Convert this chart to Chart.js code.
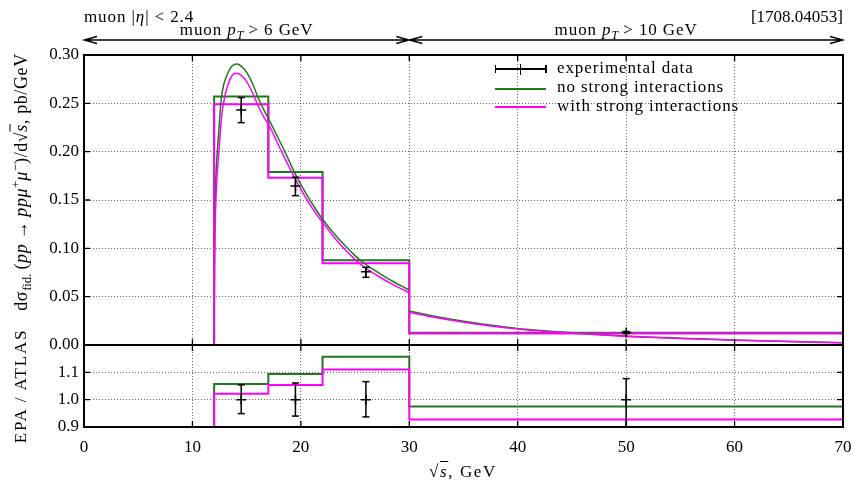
<!DOCTYPE html>
<html><head><meta charset="utf-8">
<script src="https://cdn.jsdelivr.net/npm/chart.js@4.4.1/dist/chart.umd.min.js"></script>
<style>
html,body{margin:0;padding:0;background:#fff;}
#wrap{position:relative;width:853px;height:482px;overflow:hidden;font-family:"Liberation Serif","Times New Roman",serif;color:#000;}
#c{position:absolute;left:0;top:0;}
.t{position:absolute;white-space:nowrap;font-size:17px;line-height:17px;letter-spacing:0.9px;}
.rot{transform:translate(-50%,-50%) rotate(-90deg);}
.ctr{transform:translateX(-50%);}
sub,sup{font-size:70%;line-height:0;letter-spacing:0;}
.ov{text-decoration:overline;}
.sw{position:absolute;}
</style></head><body>
<div id="wrap">
<canvas id="c" width="853" height="482"></canvas>
<div class="t" style="left:84px;top:8px;">muon |<i>η</i>| &lt; 2.4</div>
<div class="t" style="right:10px;top:8px;letter-spacing:0;">[1708.04053]</div>
<div class="t ctr" id="cut0" style="top:21px;left:246px;">muon <i>p</i><sub><i>T</i></sub> &gt; 6 GeV</div>
<div class="t ctr" id="cut1" style="top:21px;left:626px;">muon <i>p</i><sub><i>T</i></sub> &gt; 10 GeV</div>
<div class="t rot" style="left:21px;top:182px;font-size:18px;letter-spacing:0.6px;">dσ<sub>fid.</sub>&#8201;(<i>pp</i>&#8201;→&#8201;<i>ppμ</i><sup>+</sup><i>μ</i><sup>−</sup>)/d√<span class="ov"><i>s</i></span>, pb/GeV</div>
<div class="t rot" style="left:20px;top:386px;letter-spacing:1.8px;">EPA / ATLAS</div>
<div class="t ctr" style="left:463px;top:463px;letter-spacing:1.6px;">√<span class="ov"><i>s</i></span>, GeV</div>
<!-- legend -->
<div class="sw" style="left:495px;top:68px;width:51px;height:1.5px;background:#000"></div>
<div class="sw" style="left:494.5px;top:65px;width:1.5px;height:8px;background:#000"></div>
<div class="sw" style="left:545px;top:65px;width:1.5px;height:8px;background:#000"></div>
<div class="sw" style="left:519.5px;top:63.5px;width:1.5px;height:11px;background:#000"></div>
<div class="t" style="left:557px;top:59px;">experimental data</div>
<div class="sw" style="left:495px;top:87.5px;width:51px;height:2px;background:#217821"></div>
<div class="t" style="left:557px;top:78px;">no strong interactions</div>
<div class="sw" style="left:495px;top:106px;width:51px;height:2px;background:#ff00ff"></div>
<div class="t" style="left:557px;top:97px;">with strong interactions</div>
</div>
<script>
// ---- data ----
const binEdges = [12, 17, 22, 30, 70];
const histNoStrong = [0.257, 0.179, 0.0876, 0.0127];
const histStrong = [0.249, 0.173, 0.0845, 0.0120];
const ratioNoStrong = [1.057, 1.094, 1.157, 0.975];
const ratioStrong = [1.022, 1.054, 1.110, 0.927];
const dataX = [14.5, 19.5, 26, 50];
const dataY = [0.243, 0.1645, 0.0758, 0.0130];
const dataErrLow = [0.013, 0.010, 0.0058, 0.0010];
const dataErrHigh = [0.013, 0.009, 0.0046, 0.0010];
const ratioData = [1.0, 1.0, 1.0, 1.0];
const ratioErrLow = [0.051, 0.060, 0.063, 0.10];
const ratioErrHigh = [0.054, 0.061, 0.066, 0.077];
// smooth curves, pT > 6 GeV region
const curveLowX = [12.0, 12.02, 12.05, 12.1, 12.2, 12.39, 12.55, 12.7, 12.9, 13.16, 13.5, 13.8, 14.1, 14.5, 15.0, 15.5, 16.1, 16.6, 17.15, 17.8, 18.5, 19.46, 20.5, 21.3, 22.07, 23.0, 24.0, 25.0, 25.45, 26.5, 27.5, 28.5, 29.3, 30.0];
const curveLowNoStrong = [0, 0.07, 0.115, 0.15, 0.183, 0.215, 0.240, 0.258, 0.270, 0.2785, 0.2865, 0.2898, 0.2907, 0.2885, 0.2820, 0.2715, 0.2548, 0.2430, 0.231, 0.2165, 0.2005, 0.1776, 0.1563, 0.1417, 0.129, 0.1161, 0.1036, 0.0925, 0.0879, 0.0795, 0.0723, 0.0657, 0.0609, 0.0569];
const curveLowStrong = [0, 0.05, 0.09, 0.125, 0.160, 0.193, 0.217, 0.237, 0.252, 0.265, 0.2755, 0.2805, 0.2812, 0.2790, 0.2725, 0.2620, 0.2465, 0.2355, 0.2255, 0.2100, 0.1935, 0.1724, 0.1515, 0.1375, 0.1259, 0.1125, 0.0995, 0.0885, 0.0838, 0.0757, 0.0688, 0.0625, 0.0580, 0.0540];
// smooth curves, pT > 10 GeV region
const curveHighX = [30, 32, 35, 40, 45, 50, 55, 60, 65, 70];
const curveHighNoStrong = [0.0352, 0.0305, 0.0246, 0.0172, 0.0127, 0.0093, 0.0070, 0.0052, 0.0036, 0.0024];
const curveHighStrong = [0.0338, 0.0292, 0.0236, 0.0165, 0.0121, 0.0089, 0.0067, 0.0050, 0.0035, 0.0023];
const cutRanges = [[0, 30], [30, 70]];
const xTicks = {min: 0, max: 70, step: 10};
const yTicks = {min: 0, max: 0.30, step: 0.05};
const rTicks = {min: 0.9, max: 1.2, step: 0.1};

// ---- helpers ----
const GREEN = '#217821', MAG = '#ff00ff';
const pts = (xs, ys) => xs.map((x, i) => ({x, y: ys[i]}));
function stepPts(edges, vals) {
  const p = [{x: edges[0], y: 0}];
  vals.forEach((v, i) => p.push({x: edges[i], y: v}));
  p.push({x: edges[edges.length - 1], y: vals[vals.length - 1]});
  return p;
}
const lineDs = (data, color, w, axis, order, stepped) => ({
  data, borderColor: color, borderWidth: w, pointRadius: 0, yAxisID: axis,
  order, stepped: stepped ? 'before' : false, tension: 0, fill: false,
  cubicInterpolationMode: stepped ? 'default' : 'monotone'
});
const errDatasets = (xs, ys, lo, hi, axis) => {
  const out = xs.map((x, i) => ({
    data: [{x, y: ys[i] - lo[i]}, {x, y: ys[i] + hi[i]}],
    borderColor: '#000', borderWidth: 1.5, yAxisID: axis, order: 0,
    pointStyle: 'line', pointRadius: 3.5, pointBorderWidth: 1.5, pointBorderColor: '#000'
  }));
  out.push({data: pts(xs, ys), showLine: false, yAxisID: axis, order: 0,
    pointStyle: 'cross', pointRadius: 5, pointBorderWidth: 1.5, pointBorderColor: '#000'});
  return out;
};

const datasets = [
  lineDs(stepPts(binEdges, histNoStrong), GREEN, 2, 'y', 4, true),
  lineDs(stepPts(binEdges, histStrong), MAG, 2, 'y', 3, true),
  lineDs(pts(curveLowX, curveLowNoStrong), GREEN, 1.5, 'y', 2, false),
  lineDs(pts(curveHighX, curveHighNoStrong), GREEN, 1.5, 'y', 2, false),
  lineDs(pts(curveLowX, curveLowStrong), MAG, 1.5, 'y', 1, false),
  lineDs(pts(curveHighX, curveHighStrong), MAG, 1.5, 'y', 1, false),
  lineDs(stepPts(binEdges, ratioNoStrong), GREEN, 2, 'yr', 4, true),
  lineDs(stepPts(binEdges, ratioStrong), MAG, 2, 'yr', 3, true),
  ...errDatasets(dataX, dataY, dataErrLow, dataErrHigh, 'y'),
  ...errDatasets(dataX, ratioData, ratioErrLow, ratioErrHigh, 'yr')
];

const FONT = {family: '"Liberation Serif", "Times New Roman", serif', size: 17};
const gridOpts = {color: 'rgba(0,0,0,0.6)', lineWidth: 1, drawTicks: false};
const borderOpts = {display: false, dash: [1, 2]};

const framePlugin = {
  id: 'frame',
  afterDraw(chart) {
    const ctx = chart.ctx, xs = chart.scales.x;
    const panels = [chart.scales.y, chart.scales.yr];
    const seg = (a, b, c, d) => { ctx.moveTo(a, b); ctx.lineTo(c, d); };
    ctx.save();
    ctx.strokeStyle = '#000';
    ctx.lineWidth = 1.3;
    ctx.beginPath();
    const tl = 6;
    xs.ticks.forEach(t => {
      const px = xs.getPixelForValue(t.value);
      panels.forEach(ys => { seg(px, ys.top, px, ys.top + tl); seg(px, ys.bottom, px, ys.bottom - tl); });
    });
    panels.forEach(ys => ys.ticks.forEach(t => {
      const py = ys.getPixelForValue(t.value);
      seg(xs.left, py, xs.left + tl, py); seg(xs.right, py, xs.right - tl, py);
    }));
    ctx.stroke();
    ctx.lineWidth = 2;
    panels.forEach(ys => ctx.strokeRect(xs.left, ys.top, xs.right - xs.left, ys.bottom - ys.top));
    // cut range arrows
    const ay = chart.chartArea.top - 15;
    ctx.lineWidth = 1.3;
    ctx.beginPath();
    cutRanges.forEach(([a, b]) => {
      const pa = xs.getPixelForValue(a), pb = xs.getPixelForValue(b);
      seg(pa, ay, pb, ay);
      ctx.moveTo(pa + 13, ay - 3.5); ctx.lineTo(pa, ay); ctx.lineTo(pa + 13, ay + 3.5);
      ctx.moveTo(pb - 13, ay - 3.5); ctx.lineTo(pb, ay); ctx.lineTo(pb - 13, ay + 3.5);
    });
    ctx.stroke();
    ctx.restore();
  }
};

const noPad = s => { s.paddingLeft = 0; s.paddingRight = 0; s.paddingTop = 0; s.paddingBottom = 0; };

const chart = new Chart(document.getElementById('c'), {
  type: 'line',
  data: {datasets},
  plugins: [framePlugin],
  options: {
    responsive: false, animation: false, devicePixelRatio: 1,
    layout: {padding: {left: 0, right: 10, top: 55, bottom: 0}},
    plugins: {legend: {display: false}, tooltip: {enabled: false}},
    scales: {
      x: {type: 'linear', position: 'bottom', min: xTicks.min, max: xTicks.max,
        ticks: {stepSize: xTicks.step, font: FONT, color: '#000', padding: 10, maxRotation: 0, autoSkip: false},
        grid: gridOpts, border: borderOpts,
        afterFit: s => { s.height = 55; noPad(s); }},
      yr: {type: 'linear', position: 'left', stack: 'panels', stackWeight: 82,
        min: rTicks.min, max: rTicks.max,
        ticks: {stepSize: rTicks.step, font: FONT, color: '#000', padding: 5, autoSkip: false,
          callback: v => (v > rTicks.max - rTicks.step / 2 ? '' : v.toFixed(1))},
        grid: gridOpts, border: borderOpts,
        afterFit: s => { s.width = 84; noPad(s); }},
      y: {type: 'linear', position: 'left', stack: 'panels', stackWeight: 290,
        min: yTicks.min, max: yTicks.max,
        ticks: {stepSize: yTicks.step, font: FONT, color: '#000', padding: 5, autoSkip: false,
          callback: v => v.toFixed(2)},
        grid: gridOpts, border: borderOpts,
        afterFit: s => { s.width = 84; noPad(s); }}
    }
  }
});
// place cut labels at the centre of each range
['cut0', 'cut1'].forEach((id, i) => {
  const [a, b] = cutRanges[i];
  document.getElementById(id).style.left = chart.scales.x.getPixelForValue((a + b) / 2) + 'px';
});
</script>
</body></html>
